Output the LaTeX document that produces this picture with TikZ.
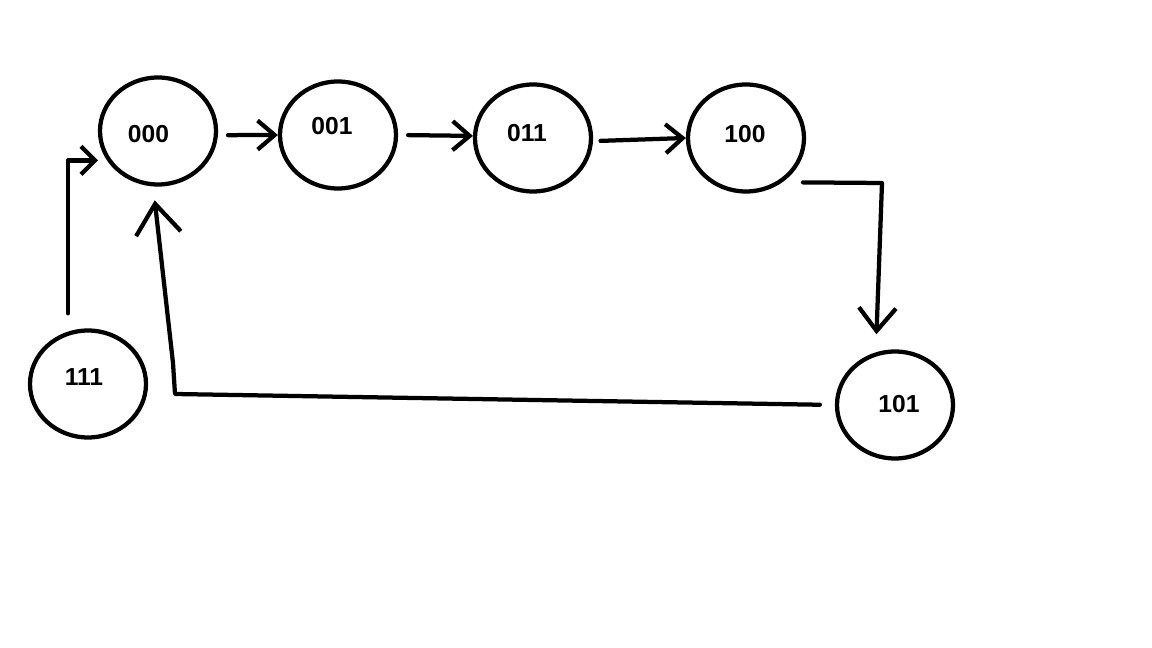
\documentclass[tikz,border=0pt]{standalone}
\usepackage{fontspec}
\setmainfont{Liberation Sans}
\usetikzlibrary{arrows.meta,shapes.geometric}
\tikzset{
  state/.style={draw,ellipse,line width=0.85mm,inner sep=0pt,minimum width=23.2mm,minimum height=21.4mm},
  lbl/.style={font=\fontsize{14}{16}\selectfont\bfseries,inner sep=0pt},
  link/.style={line width=0.85mm,line cap=round,line join=round,-{Straight Barb[length=3.4mm,width=5.8mm]}}
}
\begin{document}
\begin{tikzpicture}[x=0.2mm,y=-0.2mm]
  \useasboundingbox (0,0) rectangle (1152,648);
  \draw
    (158,131) node[state] (s000){}
    (338,135) node[state] (s001){}
    (533,138) node[state] (s011){}
    (746,138) node[state] (s100){}
    (895,405) node[state] (s101){}
    (88,384) node[state] (s111){};
  \draw
    (148.5,134) node[lbl] (t000){000}
    (332,126.5) node[lbl] (t001){001}
    (527,133) node[lbl] (t011){011}
    (745,134) node[lbl] (t100){100}
    (899,404.5) node[lbl] (t101){101}
    (84,377) node[lbl] (t111){111};
  \coordinate (k100) at (882,183);
  \coordinate (k101a) at (175,394);
  \coordinate (k101b) at (173,363);
  \begin{scope}[link]
    \draw[shorten <=2mm] (s000.-4) -- (s001.west);
    \draw[shorten <=2mm] (s001.east) -- (s011.178);
    \draw[shorten <=1.5mm] (s011.-3) -- (s100.west);
    \draw[-{Straight Barb[length=4.6mm,width=7.4mm]},shorten >=3.6mm]
      ([shift={(2.2mm,-1.7mm)}]s100.-38) -- (k100) -- (s101.110);
    \draw[-{Straight Barb[length=6mm,width=9mm]},shorten <=3mm,shorten >=2.8mm]
      (s101.west) -- (k101a) -- (k101b) -- (s000.265);
    \draw[-{Straight Barb[length=2.8mm,width=5.6mm]},shorten <=3mm,shorten >=1.8mm]
      ([xshift=-4mm]s111.north) |- (s000.210);
  \end{scope}
\end{tikzpicture}
\end{document}
